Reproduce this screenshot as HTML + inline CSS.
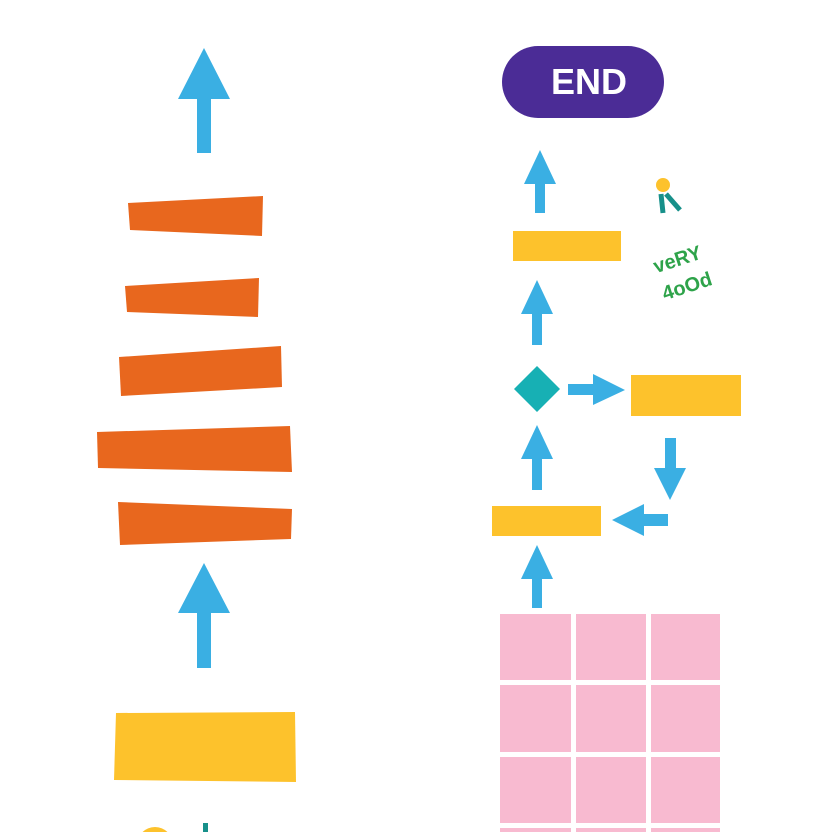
<!DOCTYPE html>
<html><head><style>html,body{margin:0;padding:0;background:#fff}svg{display:block}</style></head>
<body>
<svg width="832" height="832" viewBox="0 0 832 832" xmlns="http://www.w3.org/2000/svg">
<rect width="832" height="832" fill="#fff"/>
<g fill="#3aafe3">
<polygon points="204,48 230,99 211,99 211,153 197,153 197,99 178,99"/>
<polygon points="204,563 230,613 211,613 211,668 197,668 197,613 178,613"/>
<polygon points="540,150 556,184 545,184 545,213 535,213 535,184 524,184"/>
<polygon points="537,280 553,314 542,314 542,345 532,345 532,314 521,314"/>
<polygon points="537,425 553,459 542,459 542,490 532,490 532,459 521,459"/>
<polygon points="537,545 553,579 542,579 542,608 532,608 532,579 521,579"/>
<polygon points="625,390 593,374 593,384 568,384 568,395 593,395 593,405"/>
<polygon points="670,500 654,468 665,468 665,438 676,438 676,468 686,468"/>
<polygon points="612,520 644,504 644,514 668,514 668,526 644,526 644,536"/>
</g>
<g fill="#e8671e">
<polygon points="128,203 263,196 262,236 130,230"/>
<polygon points="125,286 259,278 258,317 127,312"/>
<polygon points="119,357 281,346 282,387 121,396"/>
<polygon points="97,432 290,426 292,472 98,468"/>
<polygon points="118,502 292,509 291,539 120,545"/>
</g>
<g fill="#fdc22c">
<polygon points="116,713 295,712 296,782 114,780"/>
<rect x="513" y="231" width="108" height="30"/>
<rect x="631" y="375" width="110" height="41"/>
<rect x="492" y="506" width="109" height="30"/>
</g>
<polygon points="537,366 560,389 537,412 514,389" fill="#17b0b4"/>
<rect x="502" y="46" width="162" height="72" rx="36" fill="#4b2c96"/>
<text x="589" y="94" text-anchor="middle" font-family="Liberation Sans, sans-serif" font-weight="bold" font-size="36" fill="#fff">END</text>
<circle cx="663" cy="185" r="7" fill="#fdc22c"/>
<path d="M661,194 L663,213 M666,194 L680,210" stroke="#17908a" stroke-width="5" fill="none"/>
<text x="652" y="262" transform="rotate(-18 690 255)" font-family="Liberation Sans, sans-serif" font-weight="bold" font-size="20" fill="#2ea34a">veRY</text>
<text x="660" y="290" transform="rotate(-18 695 280)" font-family="Liberation Sans, sans-serif" font-weight="bold" font-size="20" fill="#2ea34a">4oOd</text>
<g fill="#f8bad0">
<rect x="500" y="614" width="71" height="66"/><rect x="576" y="614" width="70" height="66"/><rect x="651" y="614" width="69" height="66"/>
<rect x="500" y="685" width="71" height="67"/><rect x="576" y="685" width="70" height="67"/><rect x="651" y="685" width="69" height="67"/>
<rect x="500" y="757" width="71" height="66"/><rect x="576" y="757" width="70" height="66"/><rect x="651" y="757" width="69" height="66"/>
<rect x="500" y="828" width="71" height="10"/><rect x="576" y="828" width="70" height="10"/><rect x="651" y="828" width="69" height="10"/>
</g>
<circle cx="155" cy="845" r="18" fill="#fdc22c"/>
<rect x="203" y="823" width="5" height="12" fill="#17908a"/>
</svg>
</body></html>
